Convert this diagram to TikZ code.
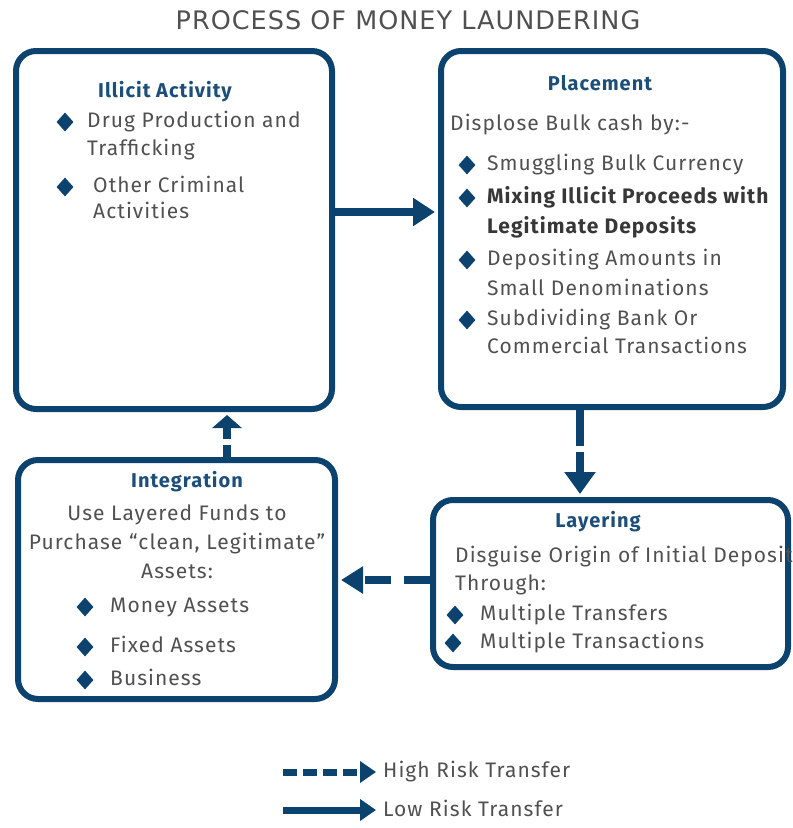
\documentclass[tikz,border=0pt]{standalone}
\usepackage{fontspec}
\setmainfont{Fira Sans}[LetterSpace=5]
\newfontfamily\titlefont{DejaVu Sans}[LetterSpace=4]
\usetikzlibrary{arrows.meta,shapes.geometric,calc}
\definecolor{navy}{RGB}{12,66,110}
\definecolor{headc}{RGB}{28,78,122}
\definecolor{bodyc}{RGB}{80,80,80}
\definecolor{boldc}{RGB}{55,55,55}
\begin{document}
\begin{tikzpicture}[x=1pt,y=-1pt,
  box/.style={draw=navy, line width=6pt, rounded corners=20pt, inner sep=0pt},
  txt/.style={anchor=west, inner sep=0pt, text height=15pt, text depth=5pt,
    font=\fontsize{21}{24}\selectfont, text=bodyc},
  ctxt/.style={txt, anchor=center},
  btxt/.style={txt, text=boldc, font=\fontsize{21}{24}\selectfont\bfseries},
  head/.style={ctxt, text=headc, font=\fontsize{20}{24}\selectfont\bfseries},
  bul/.style={diamond, fill=navy, inner sep=0pt, minimum width=17pt, minimum height=19pt},
  conn/.style={draw=navy, line width=8pt, shorten >=3pt},
  solidconn/.style={conn, -{Triangle[length=22pt,width=27pt]}},
  riskconn/.style={conn, -{Triangle[length=22pt,width=30pt]}},
  legarrow/.style={draw=navy, line width=7pt, -{Triangle[length=16pt,width=21pt]}},
  legtxt/.style={txt, font=\fontsize{21}{24}\selectfont}
]
\useasboundingbox (0,0) rectangle (793,828);

% title
\node[inner sep=0pt, text=bodyc, font=\titlefont\fontsize{25.5}{30}\selectfont] (title) at (408,20) {PROCESS OF MONEY LAUNDERING};

% boxes
\node[box, minimum width=316pt, minimum height=358pt] (illicit) at (174,230) {};
\node[box, minimum width=342pt, minimum height=356pt] (placement) at (612,229) {};
\node[box, minimum width=317pt, minimum height=239pt] (integration) at (176.5,579.5) {};
\node[box, minimum width=355pt, minimum height=167pt] (layering) at (610.5,583.5) {};

% Illicit Activity
\node[head] (ih) at (165,92) {Illicit Activity};
\node[bul] (ib1) at (65,122) {};
\node[txt] (it1) at (87,122) {Drug Production and};
\node[txt] (it2) at (87,150) {Trafficking};
\node[bul] (ib2) at (65,187) {};
\node[txt] (it3) at (93,187) {Other Criminal};
\node[txt] (it4) at (93,213) {Activities};

% Placement
\node[head] (ph) at (600,85) {Placement};
\node[txt] (pt0) at (450,125) {Displose Bulk cash by:-};
\node[bul] (pb1) at (467,165) {};
\node[txt] (pt1) at (487,165) {Smuggling Bulk Currency};
\node[bul] (pb2) at (467,198) {};
\node[btxt] (pt2) at (487,198) {Mixing Illicit Proceeds with};
\node[btxt] (pt3) at (487,228) {Legitimate Deposits};
\node[bul] (pb3) at (467,260) {};
\node[txt] (pt4) at (487,260) {Depositing Amounts in};
\node[txt] (pt5) at (487,290) {Small Denominations};
\node[bul] (pb4) at (467,320) {};
\node[txt] (pt6) at (487,320) {Subdividing Bank Or};
\node[txt] (pt7) at (487,348) {Commercial Transactions};

% Integration
\node[head] (gh) at (187,482) {Integration};
\node[ctxt] (gt1) at (177,515) {Use Layered Funds to};
\node[ctxt] (gt2) at (177,544) {Purchase “clean, Legitimate”};
\node[ctxt] (gt3) at (177,573) {Assets:};
\node[bul] (gb1) at (85,607) {};
\node[txt] (gt4) at (110,607) {Money Assets};
\node[bul] (gb2) at (85,647) {};
\node[txt] (gt5) at (110,647) {Fixed Assets};
\node[bul] (gb3) at (85,680) {};
\node[txt] (gt6) at (110,680) {Business};

% Layering
\node[head] (lh) at (598,522) {Layering};
\node[txt] (lt1) at (455,557) {Disguise Origin of Initial Deposit};
\node[txt] (lt2) at (455,585) {Through:};
\node[bul] (lb1) at (455,615) {};
\node[txt] (lt3) at (480,615) {Multiple Transfers};
\node[bul] (lb2) at (453,643) {};
\node[txt] (lt4) at (480,643) {Multiple Transactions};

% connectors
\coordinate (a1) at (0,212);
\coordinate (a2) at (580,0);
\coordinate (a3) at (0,580);
\coordinate (a4) at (227,0);
\draw[solidconn] (illicit.east |- a1) -- (placement.west |- a1);
\draw[riskconn, dash pattern=on 36pt off 6pt] (placement.south -| a2) -- (layering.north -| a2);
\draw[conn, dash pattern=on 26pt off 13pt, -{Triangle[length=22pt,width=26pt]}] (layering.west |- a3) -- (integration.east |- a3);
\draw[conn, dash pattern=on 12pt off 6pt, -{Triangle[length=13pt,width=29pt]}] (integration.north -| a4) -- (illicit.south -| a4);

% legend
\coordinate (h1) at (283,772);
\coordinate (h2) at (376,772);
\coordinate (l1) at (283,810);
\coordinate (l2) at (376,810);
\draw[legarrow, dash pattern=on 14pt off 6pt] (h1) -- (h2);
\draw[legarrow] (l1) -- (l2);
\node[legtxt] (hl) at (383,772) {High Risk Transfer};
\node[legtxt] (ll) at (383,811) {Low Risk Transfer};
\end{tikzpicture}
\end{document}
